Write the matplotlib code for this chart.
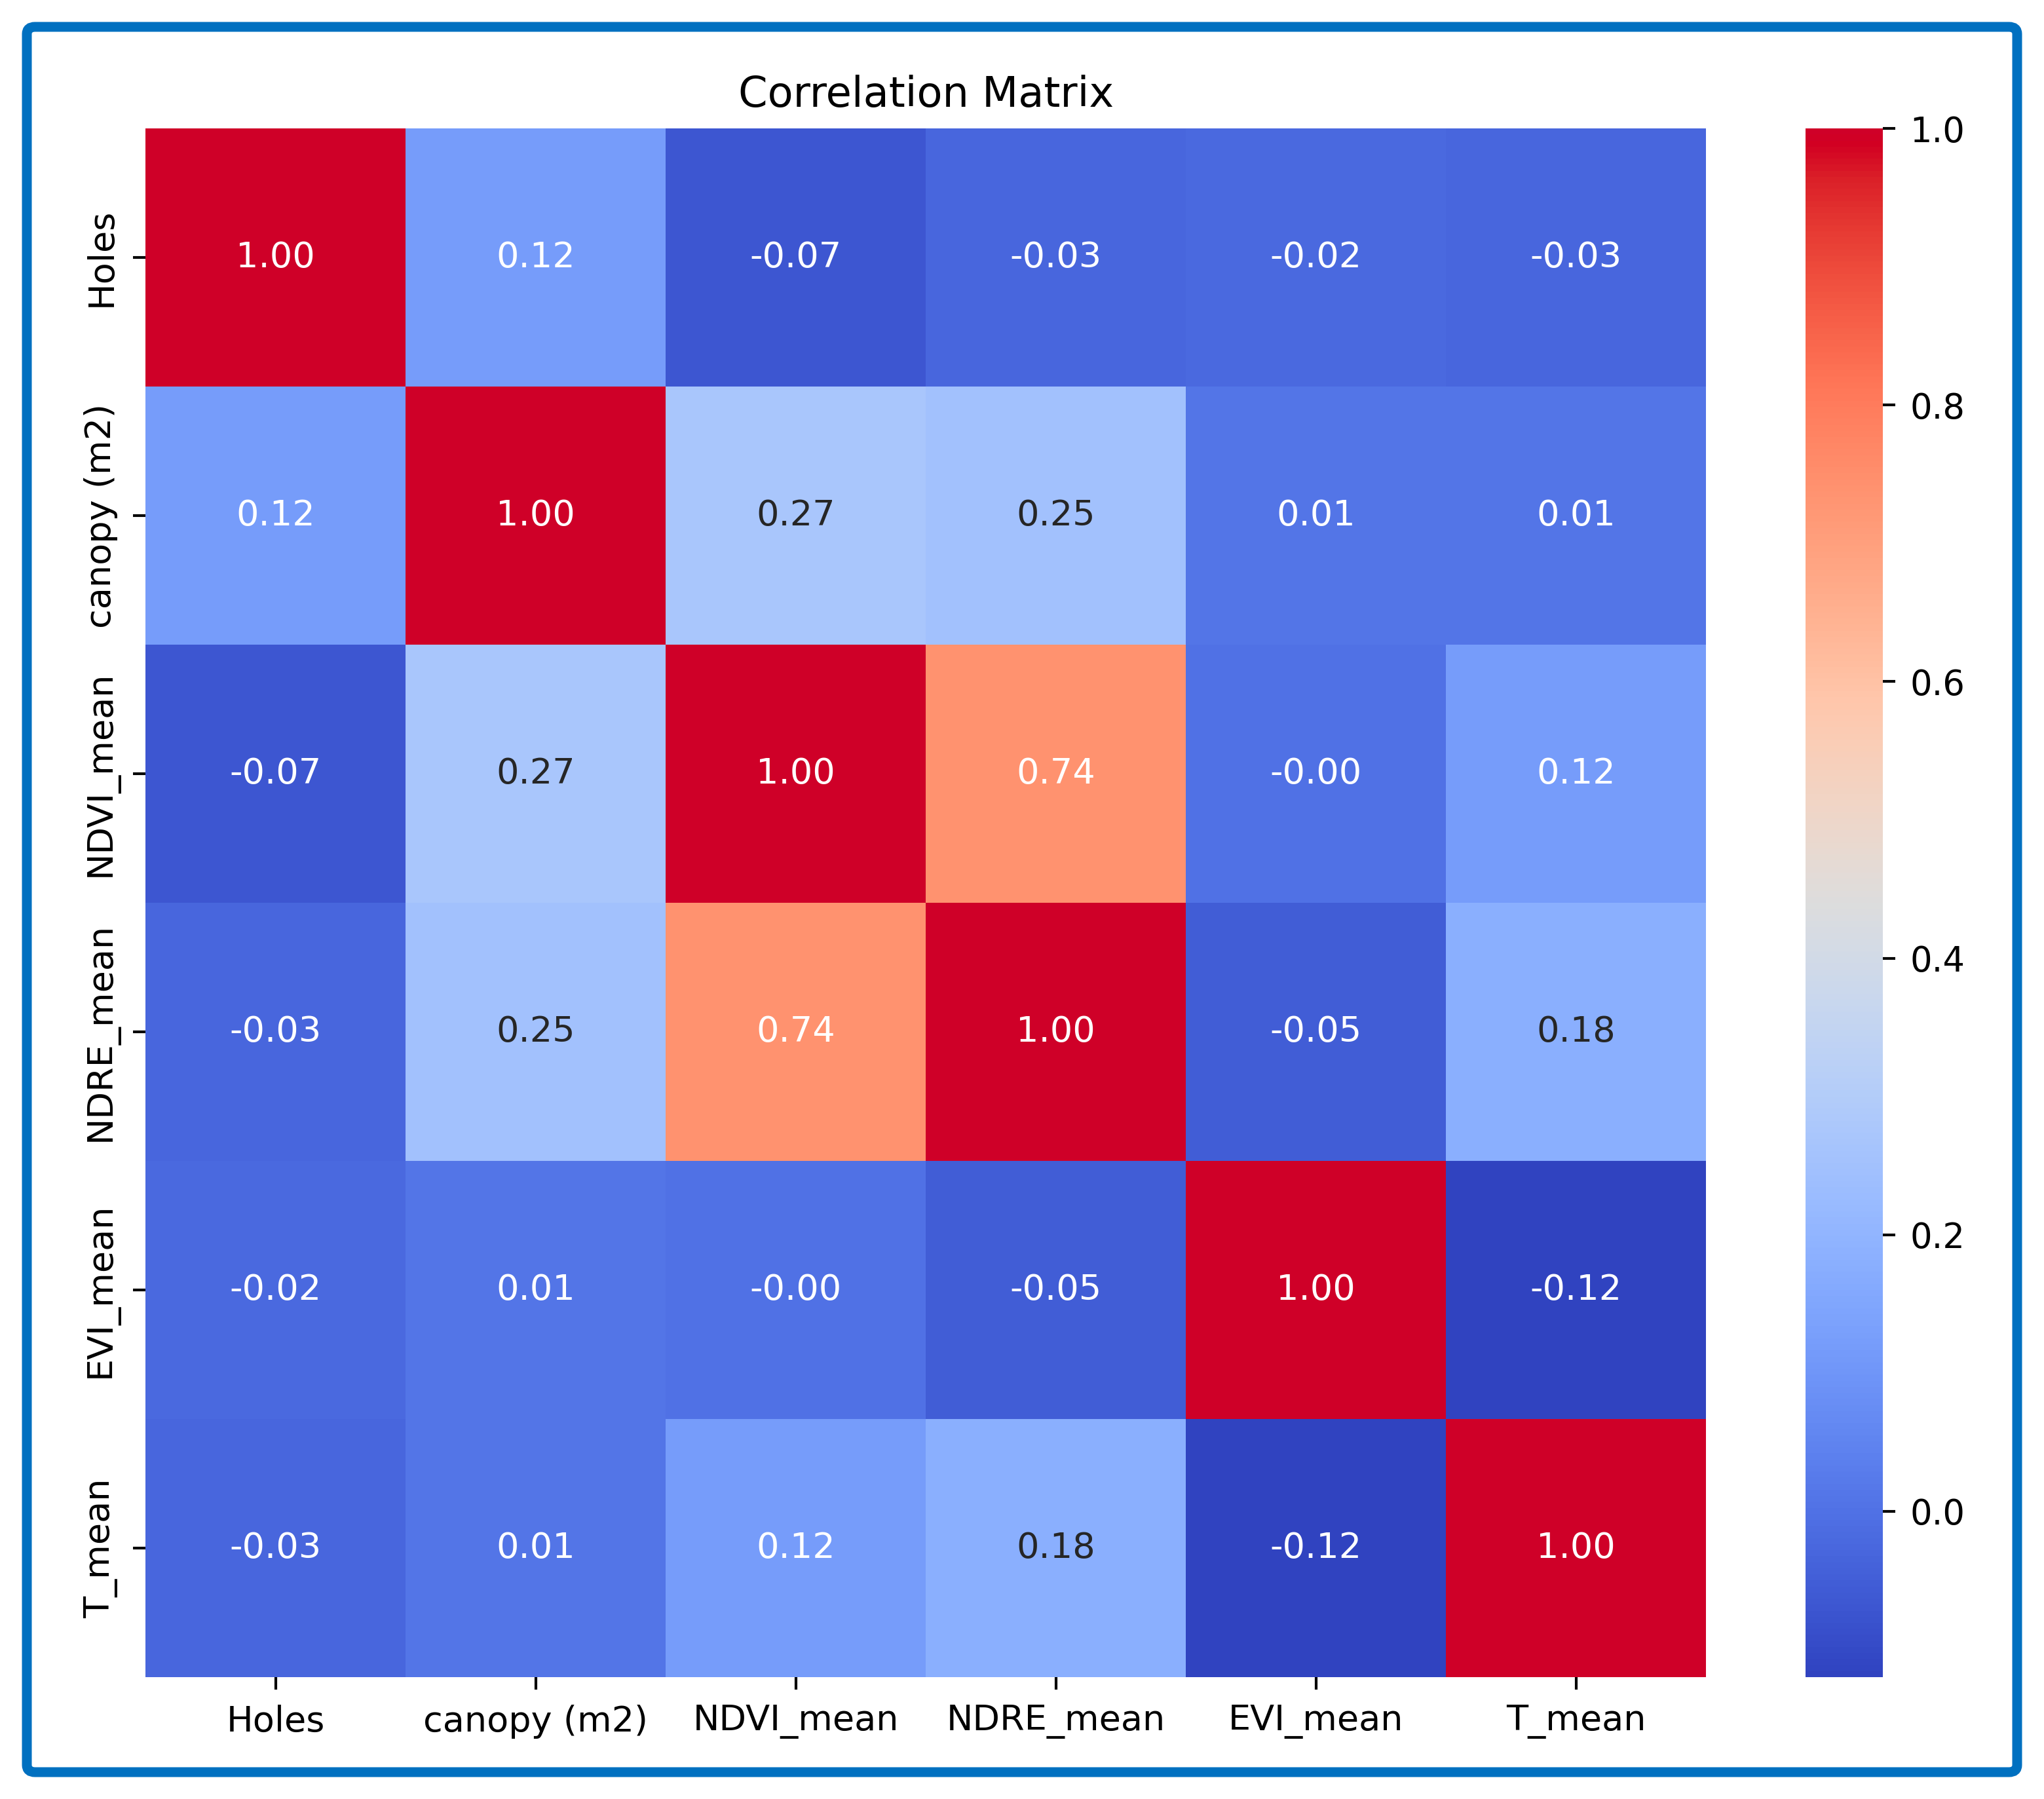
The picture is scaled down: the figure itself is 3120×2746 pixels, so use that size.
import matplotlib
matplotlib.use('Agg')
import matplotlib.pyplot as plt
import matplotlib.patches as mpatches
import matplotlib.colors as mcolors
import numpy as np
import seaborn as sns

# data
labels = ['Holes', 'canopy (m2)', 'NDVI_mean', 'NDRE_mean', 'EVI_mean', 'T_mean']
holes = [1.00, 0.12, -0.07, -0.03, -0.02, -0.03]
canopy = [0.12, 1.00, 0.27, 0.25, 0.01, 0.01]
ndvi = [-0.07, 0.27, 1.00, 0.74, -0.00, 0.12]
ndre = [-0.03, 0.25, 0.74, 1.00, -0.05, 0.18]
evi = [-0.02, 0.01, -0.00, -0.05, 1.00, -0.12]
t_mean = [-0.03, 0.01, 0.12, 0.18, -0.12, 1.00]
cbar_ticks = [0.0, 0.2, 0.4, 0.6, 0.8, 1.0]

corr = np.array([holes, canopy, ndvi, ndre, evi, t_mean])
vmin, vmax = corr.min(), corr.max()

# coolwarm, but a bit more vivid like the screenshot
cw = plt.get_cmap('coolwarm')
base = cw(np.linspace(0, 1, 256))[:, :3]
hsv = mcolors.rgb_to_hsv(base)
pos = np.linspace(0, 1, 256)
ramp = np.clip((pos - 0.5) / 0.5, 0, 1)
hsv[:, 1] = np.clip(hsv[:, 1] * 1.08, 0, 1)
hsv[:, 2] = np.clip(hsv[:, 2] * (1 + 0.15 * ramp), 0, 1)
vivid = mcolors.ListedColormap(mcolors.hsv_to_rgb(hsv), name='vivid_coolwarm')

plt.rcParams['font.family'] = 'DejaVu Sans'

fig = plt.figure(figsize=(15.6, 13.73), dpi=200)
ax = fig.add_axes([0.0712, 0.0677, 0.7635, 0.8609])
cax = fig.add_axes([0.8833, 0.0677, 0.0378, 0.8609])

sns.heatmap(corr, ax=ax, cbar_ax=cax, cmap=vivid, annot=True, fmt='.2f',
            annot_kws={'fontsize': 19.5},
            vmin=vmin, vmax=vmax,
            xticklabels=labels, yticklabels=labels)

# text colour as seaborn picks it with the plain coolwarm map
norm = mcolors.Normalize(vmin, vmax)
for txt, val in zip(ax.texts, corr.flatten()):
    r, g, b = [c / 12.92 if c <= 0.03928 else ((c + 0.055) / 1.055) ** 2.4
               for c in cw(norm(val))[:3]]
    lum = 0.2126 * r + 0.7152 * g + 0.0722 * b
    txt.set_color('.15' if lum > 0.408 else 'w')

ax.set_title('Correlation Matrix', fontsize=23, pad=12)
ax.tick_params(axis='both', length=7, width=1.5, pad=8, labelsize=19.5)
plt.setp(ax.get_xticklabels(), rotation=0)
plt.setp(ax.get_yticklabels(), rotation=90, va='center')

cax.set_yticks(cbar_ticks)
cax.tick_params(length=7, width=1.5, pad=8, labelsize=19)

# blue frame around the whole picture
frame = mpatches.FancyBboxPatch((41 / 3120, 41 / 2746), 1 - 82 / 3120, 1 - 82 / 2746,
                                boxstyle='round,pad=0,rounding_size=0.004',
                                transform=fig.transFigure, fill=False,
                                edgecolor='#0070C0', linewidth=5.4)
fig.patches.append(frame)

fig.savefig('out.png', dpi=200, facecolor='white')
plt.close()
